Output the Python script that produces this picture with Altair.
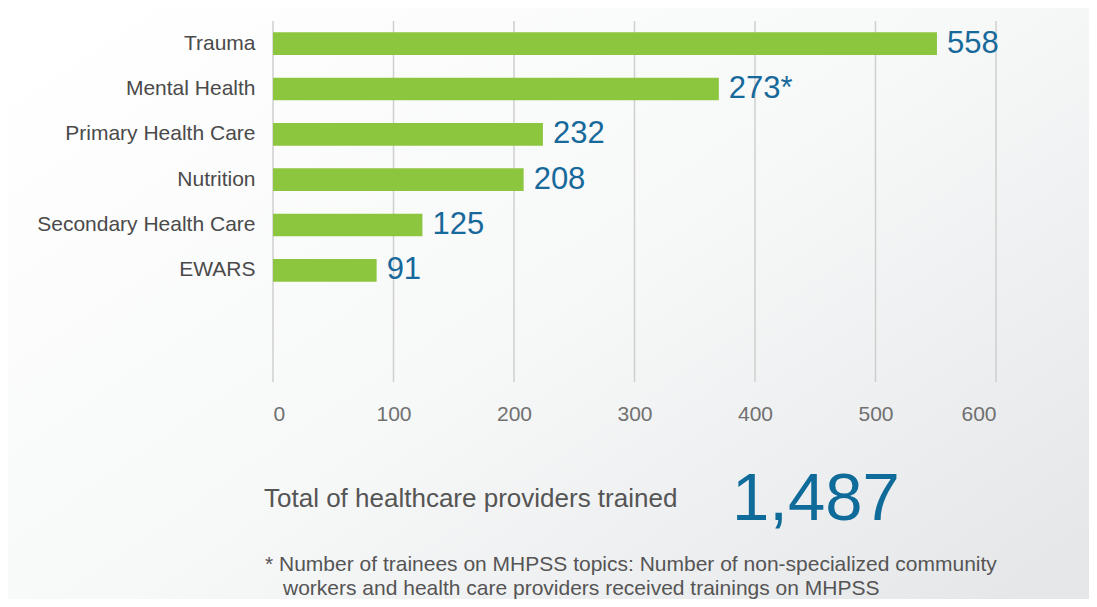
import altair as alt
import pandas as pd

categories = ["Trauma", "Mental Health", "Primary Health Care", "Nutrition",
              "Secondary Health Care", "EWARS"]
bar_values = [551, 370, 224, 208, 124, 86]
value_labels = ["558", "273*", "232", "208", "125", "91"]
x_ticks = [0, 100, 200, 300, 400, 500, 600]
total_label = ["Total of healthcare providers trained"]
total_value = ["1,487"]
footnote_line1 = ["* Number of trainees on MHPSS topics: Number of non-specialized community"]
footnote_line2 = ["workers and health care providers received trainings on MHPSS"]

FONT = "Liberation Sans"
W, H = 723, 361

bars_df = pd.DataFrame({"category": categories, "value": bar_values, "label": value_labels})
ticks_df = pd.DataFrame({"tick": x_ticks})

x_scale = alt.Scale(domain=[0, 600], nice=False)
y_scale = alt.Scale(paddingInner=0, paddingOuter=0.982, align=0)

bg = alt.Chart(pd.DataFrame({"a": [0]})).mark_rect(
    color=alt.LinearGradient(
        gradient="linear",
        stops=[alt.GradientStop(color="#ffffff", offset=0),
               alt.GradientStop(color="#f7f8f8", offset=0.5),
               alt.GradientStop(color="#e6e7e9", offset=1)],
        x1=0, y1=0.1, x2=1, y2=0.9)
).encode(x=alt.value(-265), x2=alt.value(816), y=alt.value(-13), y2=alt.value(578))

grid = alt.Chart(ticks_df).mark_rule(color="#cfcfcf", strokeWidth=1.5).encode(
    x=alt.X("tick:Q", scale=x_scale, title=None,
            axis=alt.Axis(values=x_ticks, grid=False, ticks=False, domain=False,
                          labelFont=FONT, labelFontSize=21, labelColor="#707070",
                          labelPadding=21, zindex=1))
)

bars = alt.Chart(bars_df).mark_bar(color="#8cc63f", size=22.7).encode(
    x=alt.X("value:Q", scale=x_scale, title=None),
    y=alt.Y("category:N", sort=categories, scale=y_scale, title=None,
            axis=alt.Axis(ticks=False, domain=False, grid=False, labelFont=FONT,
                          labelFontSize=21, labelColor="#4a4a4a", labelPadding=18,
                          labelLimit=400, zindex=1)),
)

labels = alt.Chart(bars_df).mark_text(
    align="left", baseline="middle", dx=10, dy=0, font=FONT, fontSize=31, color="#16699a"
).encode(
    x=alt.X("value:Q", scale=x_scale),
    y=alt.Y("category:N", sort=categories, scale=y_scale),
    text="label:N",
)

total_text = alt.Chart(pd.DataFrame({"t": total_label})).mark_text(
    align="left", baseline="alphabetic", font=FONT, fontSize=26, color="#555555"
).encode(x=alt.value(-9), y=alt.value(486), text="t:N")

total_num = alt.Chart(pd.DataFrame({"t": total_value})).mark_text(
    align="left", baseline="alphabetic", font=FONT, fontSize=67, color="#0f6b99"
).encode(x=alt.value(459), y=alt.value(499), text="t:N")

foot1 = alt.Chart(pd.DataFrame({"t": footnote_line1})).mark_text(
    align="left", baseline="alphabetic", font=FONT, fontSize=21, color="#555555"
).encode(x=alt.value(-8), y=alt.value(550), text="t:N")

foot2 = alt.Chart(pd.DataFrame({"t": footnote_line2})).mark_text(
    align="left", baseline="alphabetic", font=FONT, fontSize=21, color="#555555"
).encode(x=alt.value(10), y=alt.value(574), text="t:N")

chart = alt.layer(bg, grid, bars, labels, total_text, total_num, foot1, foot2).properties(
    width=W, height=H,
    autosize=alt.AutoSizeParams(type="none"),
    padding={"left": 265, "top": 13, "right": 93, "bottom": 217},
    background="#ffffff",
).configure_view(stroke=None)

chart.save("out.html", embed_options={"renderer": "svg", "actions": False})
